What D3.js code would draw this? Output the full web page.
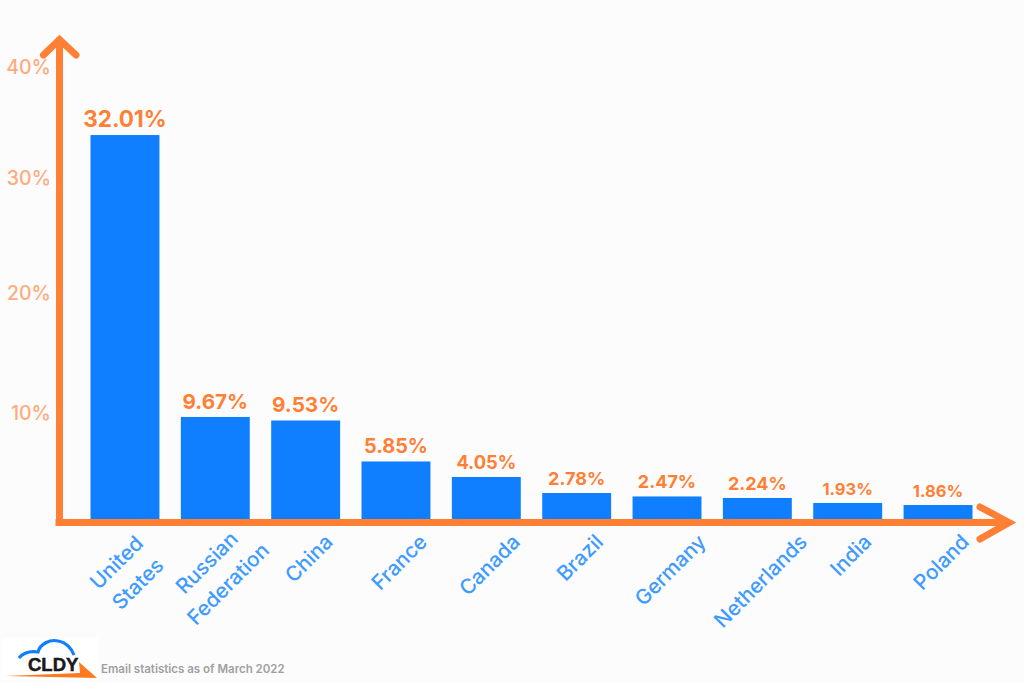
<!DOCTYPE html>
<html>
<head>
<meta charset="utf-8">
<script src="https://cdn.jsdelivr.net/npm/d3@7"></script>
<style>
  html, body { margin: 0; background: #fcfcfc; }
  svg { display: block; font-family: Inter, "Noto Sans", sans-serif; }
</style>
</head>
<body>
<svg id="chart" width="1024" height="683"></svg>
<script>
const countries = ["United States", "Russian Federation", "China", "France", "Canada",
  "Brazil", "Germany", "Netherlands", "India", "Poland"];
// printed share above each bar
const shareLabels = [32.01, 9.67, 9.53, 5.85, 4.05, 2.78, 2.47, 2.24, 1.93, 1.86];
// bar height as read against the axis (the picture does not follow its own labels)
const barValues = [33.87, 9.63, 9.3, 5.47, 4.02, 2.52, 2.2, 2.06, 1.59, 1.4];
const yTicks = [10, 20, 30, 40];
const footnote = "Email statistics as of March 2022";

const ORANGE = "#ff7f35";
const svg = d3.select("#chart");

// ticks are unevenly spaced in the picture, so the scale is piecewise
const y = d3.scaleLinear([0, 10, 20, 30, 40], [520, 413, 293, 178, 67]);
const x = d3.scaleBand(countries, [90.5, 972.5]).paddingInner(0.237);

// label size steps down with the value
const labelSize = d3.scaleThreshold([2, 2.7, 4, 5, 9, 20], [16.5, 18, 18, 18.3, 19.8, 20.7, 22.5]);

// Bars
svg.append("g").selectAll("rect")
  .data(countries)
  .join("rect")
  .attr("x", d => x(d))
  .attr("width", x.bandwidth())
  .attr("y", (d, i) => y(barValues[i]))
  .attr("height", (d, i) => y(0) - y(barValues[i]))
  .attr("fill", "#0f7fff");

// Value labels
svg.append("g").selectAll("text")
  .data(countries)
  .join("text")
  .attr("x", d => x(d) + x.bandwidth() / 2)
  .attr("y", (d, i) => y(barValues[i]) - 8)
  .attr("text-anchor", "middle")
  .attr("font-weight", 700)
  .attr("font-size", (d, i) => labelSize(shareLabels[i]))
  .attr("fill", ORANGE)
  .text((d, i) => shareLabels[i].toFixed(2) + "%");

// Y axis ticks
const yAxis = svg.append("g")
  .attr("transform", "translate(51,0)")
  .call(d3.axisLeft(y).tickValues(yTicks).tickSize(0).tickPadding(0).tickFormat(d => d + "%"));
yAxis.select(".domain").remove();
yAxis.selectAll("text")
  .attr("font-family", "Inter, sans-serif")
  .attr("font-weight", 500)
  .attr("font-size", 19.5)
  .attr("fill", "#ffab7d");

// X axis labels, rotated and split on two lines where the name is long
const xAxis = svg.append("g")
  .attr("transform", "translate(0,520)")
  .call(d3.axisBottom(x).tickSize(0).tickFormat(""));
xAxis.select(".domain").remove();
xAxis.selectAll(".tick text").each(function (d) {
  const words = d.split(" ");
  const t = d3.select(this)
    .text(null)
    .attr("font-family", "Inter, sans-serif")
    .attr("font-weight", 500)
    .attr("font-size", 20.7)
    .attr("fill", "#3f9bff")
    .attr("text-anchor", "middle")
    .attr("y", 0).attr("dy", 0);
  words.forEach((w, i) => {
    t.append("tspan")
      .attr("x", 0)
      .attr("y", (i - (words.length - 1) / 2) * 30)
      .attr("dominant-baseline", "central")
      .text(w);
  });
  if (words.length > 1) {
    t.attr("transform", "translate(2,53) rotate(-45)");
  } else {
    // single words line up on their upper end, not their middle
    const drop = 18 + t.node().getComputedTextLength() / 2 * Math.SQRT1_2;
    t.attr("transform", `translate(3,${drop}) rotate(-45)`);
  }
});

// Orange axis arrows
const arrows = svg.append("g")
  .attr("fill", "none").attr("stroke", ORANGE)
  .attr("stroke-width", 7).attr("stroke-linecap", "round").attr("stroke-linejoin", "miter");
arrows.append("path").attr("d", "M59.5,522V41").attr("stroke-linecap", "square");
arrows.append("path").attr("d", "M43.5,55L59.5,39.5L76,55");
arrows.append("path").attr("d", "M59,522.5H1005").attr("stroke-linecap", "square");
arrows.append("path").attr("d", "M980,507L1009,522.5L980,539");

// Logo
const logo = svg.append("g");
logo.append("rect").attr("x", 2).attr("y", 638).attr("width", 96).attr("height", 42).attr("fill", "#fff");
logo.append("path")
  .attr("d", "M19,658C23,653 30,651 38,652C40,644 50,639 58,641C66,642 72,649 74,655")
  .attr("fill", "none").attr("stroke", "#0f7fff").attr("stroke-width", 3.2);
logo.append("text")
  .attr("x", 28).attr("y", 671)
  .attr("font-family", "Liberation Sans, sans-serif")
  .attr("font-weight", 700).attr("font-size", 18.5).attr("fill", "#1a1a1a")
  .attr("stroke", "#1a1a1a").attr("stroke-width", 0.5)
  .text("CLDY");
logo.append("path")
  .attr("d", "M5,676L80,673L79,662L97,678Z")
  .attr("fill", "#ff7a1f");

svg.append("text")
  .attr("x", 101).attr("y", 673)
  .attr("font-weight", 600).attr("font-size", 11.5).attr("fill", "#a0a0a0")
  .text(footnote);
</script>
</body>
</html>
